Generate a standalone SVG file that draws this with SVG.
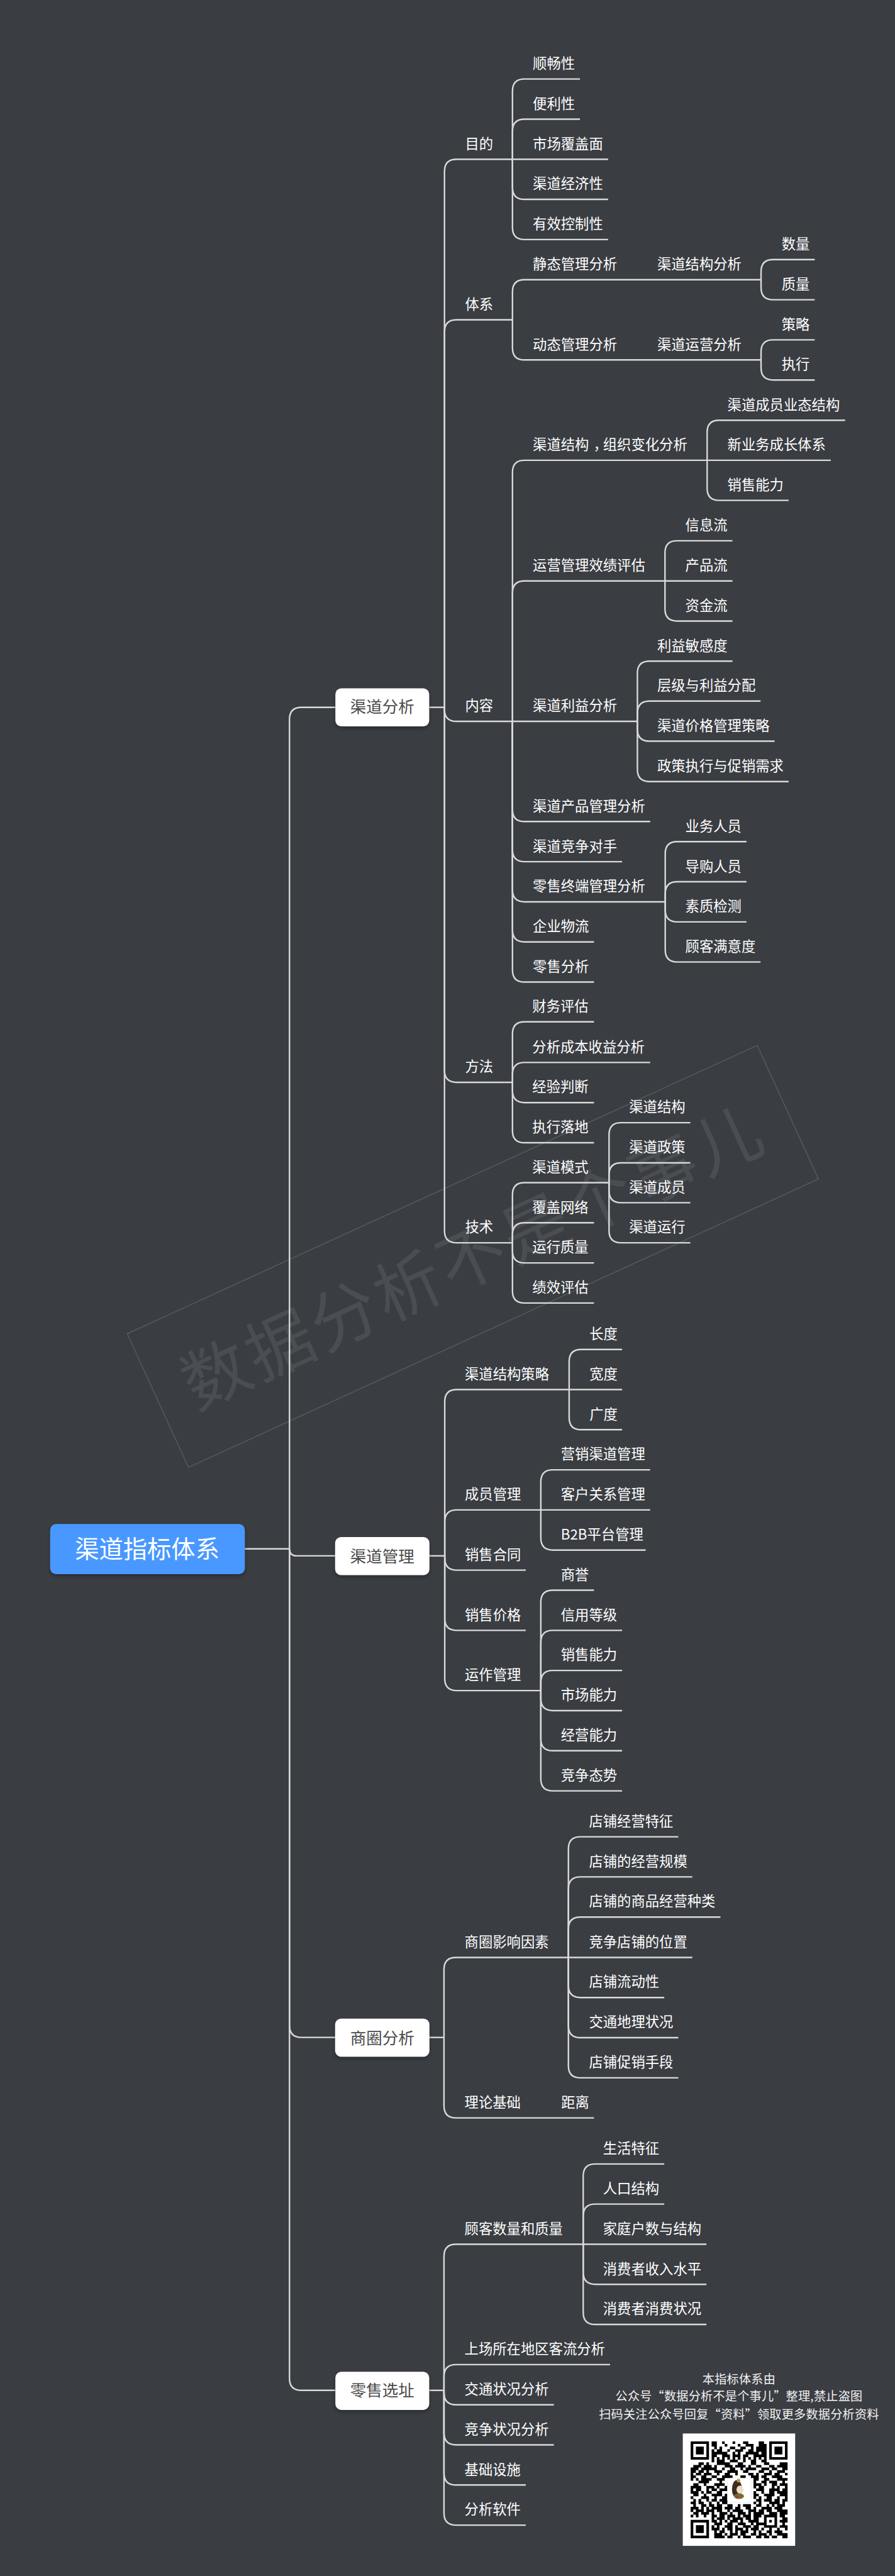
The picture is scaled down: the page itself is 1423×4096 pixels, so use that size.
<svg xmlns="http://www.w3.org/2000/svg" xmlns:xlink="http://www.w3.org/1999/xlink" width="1423" height="4096" viewBox="0 0 1423 4096">
<defs>
<style>
text{font-family:"Noto Sans CJK SC","Noto Sans",sans-serif}
.t{font-size:28px;fill:#fff}
.b{font-size:32px;fill:#4a4a4a;text-anchor:middle}
.r{font-size:48px;fill:#fff;text-anchor:middle}
.n{font-size:24px;fill:#f2f2f2;text-anchor:middle;letter-spacing:.3px}
.w{font-size:134px;fill:#4a4d52;text-anchor:middle;letter-spacing:6px}
#connectors path{fill:none;stroke:#d9d9d9;stroke-width:3}
.box{fill:#fff}
</style>
<filter id="sh" x="-20%" y="-30%" width="140%" height="170%"><feDropShadow dx="0" dy="4" stdDeviation="4" flood-color="#000" flood-opacity=".3"/></filter>
<g id="finder"><path d="M0 0h7v7h-7zM1 1v5h5v-5z" fill="#000" fill-rule="evenodd"/><rect x="2" y="2" width="3" height="3" fill="#000"/></g>
</defs>
<rect width="1423" height="4096" fill="#3a3d42"/>
<g transform="scale(.79765)">
<g id="watermark" transform="rotate(-24.6 942.5 2504.5)">
<rect x="252" y="2358" width="1381" height="293" fill="none" stroke="#55585d" stroke-width="2"/>
<text class="w" x="942.5" y="2554">数据分析不是个事儿</text>
</g>
<g id="connectors">
<path d="M488 3087.5H577"/>
<path d="M577 3087.5V1434Q577 1410 601 1410H668"/>
<path d="M577 3087.5Q577 3101.5 591 3101.5H668"/>
<path d="M577 3087.5V4037.5Q577 4061.5 601 4061.5H668"/>
<path d="M577 3087.5V4741Q577 4765 601 4765H668"/>
<path d="M856 1410H886"/>
<path d="M886 1410V341.5Q886 317.5 910 317.5H1021.5"/>
<path d="M886 1410V661.5Q886 637.5 910 637.5H1021.5"/>
<path d="M886 1410V1414Q886 1438 910 1438H1270.5"/>
<path d="M886 1410V2133.5Q886 2157.5 910 2157.5H1021.5"/>
<path d="M886 1410V2453.5Q886 2477.5 910 2477.5H1021.5"/>
<path d="M1021.5 317.5V181.5Q1021.5 157.5 1045.5 157.5H1156"/>
<path d="M1021.5 317.5V261.5Q1021.5 237.5 1045.5 237.5H1156"/>
<path d="M1021.5 317.5H1212"/>
<path d="M1021.5 317.5V373.5Q1021.5 397.5 1045.5 397.5H1212"/>
<path d="M1021.5 317.5V453.5Q1021.5 477.5 1045.5 477.5H1212"/>
<path d="M1021.5 637.5V581.5Q1021.5 557.5 1045.5 557.5H1517"/>
<path d="M1021.5 637.5V693.5Q1021.5 717.5 1045.5 717.5H1517"/>
<path d="M1517 557.5V541.5Q1517 517.5 1541 517.5H1624"/>
<path d="M1517 557.5V573.5Q1517 597.5 1541 597.5H1624"/>
<path d="M1517 717.5V701.5Q1517 677.5 1541 677.5H1624"/>
<path d="M1517 717.5V733.5Q1517 757.5 1541 757.5H1624"/>
<path d="M1021.5 1438V941.5Q1021.5 917.5 1045.5 917.5H1409.5"/>
<path d="M1021.5 1438V1182Q1021.5 1158 1045.5 1158H1325.5"/>
<path d="M1021.5 1438V1613.7Q1021.5 1637.7 1045.5 1637.7H1296"/>
<path d="M1021.5 1438V1693.7Q1021.5 1717.7 1045.5 1717.7H1240"/>
<path d="M1021.5 1438V1773.7Q1021.5 1797.7 1045.5 1797.7H1326"/>
<path d="M1021.5 1438V1853.7Q1021.5 1877.7 1045.5 1877.7H1184"/>
<path d="M1021.5 1438V1933.7Q1021.5 1957.7 1045.5 1957.7H1184"/>
<path d="M1409.5 917.5V861.8Q1409.5 837.8 1433.5 837.8H1684.5"/>
<path d="M1409.5 917.5H1656"/>
<path d="M1409.5 917.5V973.5Q1409.5 997.5 1433.5 997.5H1572"/>
<path d="M1325.5 1158V1102Q1325.5 1078 1349.5 1078H1460"/>
<path d="M1325.5 1158H1460"/>
<path d="M1325.5 1158V1214Q1325.5 1238 1349.5 1238H1460"/>
<path d="M1270.5 1438V1342Q1270.5 1318 1294.5 1318H1460"/>
<path d="M1270.5 1438V1421.5Q1270.5 1397.5 1294.5 1397.5H1516"/>
<path d="M1270.5 1438V1453.5Q1270.5 1477.5 1294.5 1477.5H1544"/>
<path d="M1270.5 1438V1534Q1270.5 1558 1294.5 1558H1572"/>
<path d="M1326 1797.7V1701.7Q1326 1677.7 1350 1677.7H1488"/>
<path d="M1326 1797.7V1781.7Q1326 1757.7 1350 1757.7H1488"/>
<path d="M1326 1797.7V1813.7Q1326 1837.7 1350 1837.7H1488"/>
<path d="M1326 1797.7V1893.7Q1326 1917.7 1350 1917.7H1516"/>
<path d="M1021.5 2157.5V2061Q1021.5 2037 1045.5 2037H1184"/>
<path d="M1021.5 2157.5V2142Q1021.5 2118 1045.5 2118H1296"/>
<path d="M1021.5 2157.5V2174Q1021.5 2198 1045.5 2198H1184"/>
<path d="M1021.5 2157.5V2254Q1021.5 2278 1045.5 2278H1184"/>
<path d="M1021.5 2477.5V2381.5Q1021.5 2357.5 1045.5 2357.5H1214"/>
<path d="M1021.5 2477.5V2461.5Q1021.5 2437.5 1045.5 2437.5H1184"/>
<path d="M1021.5 2477.5V2493.5Q1021.5 2517.5 1045.5 2517.5H1184"/>
<path d="M1021.5 2477.5V2573.5Q1021.5 2597.5 1045.5 2597.5H1184"/>
<path d="M1214 2357.5V2262Q1214 2238 1238 2238H1376"/>
<path d="M1214 2357.5V2342Q1214 2318 1238 2318H1376"/>
<path d="M1214 2357.5V2373.5Q1214 2397.5 1238 2397.5H1376"/>
<path d="M1214 2357.5V2453.5Q1214 2477.5 1238 2477.5H1376"/>
<path d="M856 3101.5H886.5"/>
<path d="M886.5 3101.5V2794Q886.5 2770 910.5 2770H1134.5"/>
<path d="M886.5 3101.5V3034Q886.5 3010 910.5 3010H1078"/>
<path d="M886.5 3101.5V3106Q886.5 3130 910.5 3130H1048"/>
<path d="M886.5 3101.5V3226Q886.5 3250 910.5 3250H1048"/>
<path d="M886.5 3101.5V3346Q886.5 3370 910.5 3370H1078"/>
<path d="M1134.5 2770V2714Q1134.5 2690 1158.5 2690H1240"/>
<path d="M1134.5 2770H1240"/>
<path d="M1134.5 2770V2826Q1134.5 2850 1158.5 2850H1240"/>
<path d="M1078 3010V2954Q1078 2930 1102 2930H1296"/>
<path d="M1078 3010H1296"/>
<path d="M1078 3010V3066Q1078 3090 1102 3090H1287"/>
<path d="M1078 3370V3194Q1078 3170 1102 3170H1184"/>
<path d="M1078 3370V3274Q1078 3250 1102 3250H1240"/>
<path d="M1078 3370V3354Q1078 3330 1102 3330H1240"/>
<path d="M1078 3370V3386Q1078 3410 1102 3410H1240"/>
<path d="M1078 3370V3466Q1078 3490 1102 3490H1240"/>
<path d="M1078 3370V3546Q1078 3570 1102 3570H1240"/>
<path d="M856 4061.5H885"/>
<path d="M885 4061.5V3926Q885 3902 909 3902H1133"/>
<path d="M885 4061.5V4198Q885 4222 909 4222H1184"/>
<path d="M1133 3902V3685.5Q1133 3661.5 1157 3661.5H1352"/>
<path d="M1133 3902V3765.5Q1133 3741.5 1157 3741.5H1380"/>
<path d="M1133 3902V3845.5Q1133 3821.5 1157 3821.5H1436"/>
<path d="M1133 3902H1380"/>
<path d="M1133 3902V3958Q1133 3982 1157 3982H1324"/>
<path d="M1133 3902V4038Q1133 4062 1157 4062H1352"/>
<path d="M1133 3902V4118Q1133 4142 1157 4142H1352"/>
<path d="M856 4765H885"/>
<path d="M885 4765V4497.7Q885 4473.7 909 4473.7H1162.5"/>
<path d="M885 4765V4737.7Q885 4713.7 909 4713.7H1216"/>
<path d="M885 4765V4769.7Q885 4793.7 909 4793.7H1104"/>
<path d="M885 4765V4849.7Q885 4873.7 909 4873.7H1104"/>
<path d="M885 4765V4929.7Q885 4953.7 909 4953.7H1048"/>
<path d="M885 4765V5009.7Q885 5033.7 909 5033.7H1048"/>
<path d="M1162.5 4473.7V4337.7Q1162.5 4313.7 1186.5 4313.7H1324"/>
<path d="M1162.5 4473.7V4417.7Q1162.5 4393.7 1186.5 4393.7H1324"/>
<path d="M1162.5 4473.7H1408"/>
<path d="M1162.5 4473.7V4529.7Q1162.5 4553.7 1186.5 4553.7H1408"/>
<path d="M1162.5 4473.7V4609.7Q1162.5 4633.7 1186.5 4633.7H1408"/>
</g>
<g id="root"><rect x="100" y="3038" width="388" height="100" rx="12" fill="#4a98ff" filter="url(#sh)"/><text class="r" x="293.5" y="3105">渠道指标体系</text></g>
<g id="b1"><rect class="box" x="668.5" y="1372" width="187" height="76" rx="12" filter="url(#sh)"/><text class="b" x="762" y="1421">渠道分析</text></g>
<g id="b2"><rect class="box" x="668" y="3064" width="188" height="76" rx="12" filter="url(#sh)"/><text class="b" x="762" y="3114">渠道管理</text></g>
<g id="b3"><rect class="box" x="668" y="4024" width="188" height="76" rx="12" filter="url(#sh)"/><text class="b" x="762" y="4074">商圈分析</text></g>
<g id="b4"><rect class="box" x="668.5" y="4728" width="187" height="76" rx="12" filter="url(#sh)"/><text class="b" x="762" y="4777">零售选址</text></g>
<g id="n1"><text class="t" x="927" y="296.5">目的</text></g>
<g id="n2"><text class="t" x="927" y="616.5">体系</text></g>
<g id="n3"><text class="t" x="927" y="1417">内容</text></g>
<g id="n4"><text class="t" x="927" y="2136.5">方法</text></g>
<g id="n5"><text class="t" x="927" y="2456.5">技术</text></g>
<g id="n6"><text class="t" x="1062" y="136.5">顺畅性</text></g>
<g id="n7"><text class="t" x="1062" y="216.5">便利性</text></g>
<g id="n8"><text class="t" x="1062" y="296.5">市场覆盖面</text></g>
<g id="n9"><text class="t" x="1062" y="376.5">渠道经济性</text></g>
<g id="n10"><text class="t" x="1062" y="456.5">有效控制性</text></g>
<g id="n11"><text class="t" x="1062" y="536.5">静态管理分析</text></g>
<g id="n12"><text class="t" x="1062" y="696.5">动态管理分析</text></g>
<g id="n13"><text class="t" x="1310" y="536.5">渠道结构分析</text></g>
<g id="n14"><text class="t" x="1310" y="696.5">渠道运营分析</text></g>
<g id="n15"><text class="t" x="1558" y="496.5">数量</text></g>
<g id="n16"><text class="t" x="1558" y="576.5">质量</text></g>
<g id="n17"><text class="t" x="1558" y="656.5">策略</text></g>
<g id="n18"><text class="t" x="1558" y="736.5">执行</text></g>
<g id="n19"><text class="t" x="1062" y="896.5">渠道结构<tspan dx="9">，</tspan><tspan dx="-9">组织变化分析</tspan></text></g>
<g id="n20"><text class="t" x="1062" y="1137">运营管理效绩评估</text></g>
<g id="n21"><text class="t" x="1062" y="1417">渠道利益分析</text></g>
<g id="n22"><text class="t" x="1062" y="1617">渠道产品管理分析</text></g>
<g id="n23"><text class="t" x="1062" y="1697">渠道竞争对手</text></g>
<g id="n24"><text class="t" x="1062" y="1777">零售终端管理分析</text></g>
<g id="n25"><text class="t" x="1062" y="1857">企业物流</text></g>
<g id="n26"><text class="t" x="1062" y="1937">零售分析</text></g>
<g id="n27"><text class="t" x="1450" y="817">渠道成员业态结构</text></g>
<g id="n28"><text class="t" x="1450" y="897">新业务成长体系</text></g>
<g id="n29"><text class="t" x="1450" y="976.5">销售能力</text></g>
<g id="n30"><text class="t" x="1366" y="1057">信息流</text></g>
<g id="n31"><text class="t" x="1366" y="1137">产品流</text></g>
<g id="n32"><text class="t" x="1366" y="1217">资金流</text></g>
<g id="n33"><text class="t" x="1310" y="1297">利益敏感度</text></g>
<g id="n34"><text class="t" x="1310" y="1376.5">层级与利益分配</text></g>
<g id="n35"><text class="t" x="1310" y="1456.5">渠道价格管理策略</text></g>
<g id="n36"><text class="t" x="1310" y="1537">政策执行与促销需求</text></g>
<g id="n37"><text class="t" x="1366" y="1657">业务人员</text></g>
<g id="n38"><text class="t" x="1366" y="1737">导购人员</text></g>
<g id="n39"><text class="t" x="1366" y="1817">素质检测</text></g>
<g id="n40"><text class="t" x="1366" y="1897">顾客满意度</text></g>
<g id="n41"><text class="t" x="1061" y="2016">财务评估</text></g>
<g id="n42"><text class="t" x="1061" y="2097">分析成本收益分析</text></g>
<g id="n43"><text class="t" x="1061" y="2177">经验判断</text></g>
<g id="n44"><text class="t" x="1061" y="2257">执行落地</text></g>
<g id="n45"><text class="t" x="1061" y="2336.5">渠道模式</text></g>
<g id="n46"><text class="t" x="1061" y="2416.5">覆盖网络</text></g>
<g id="n47"><text class="t" x="1061" y="2496.5">运行质量</text></g>
<g id="n48"><text class="t" x="1061" y="2576.5">绩效评估</text></g>
<g id="n49"><text class="t" x="1254" y="2217">渠道结构</text></g>
<g id="n50"><text class="t" x="1254" y="2297">渠道政策</text></g>
<g id="n51"><text class="t" x="1254" y="2376.5">渠道成员</text></g>
<g id="n52"><text class="t" x="1254" y="2456.5">渠道运行</text></g>
<g id="n53"><text class="t" x="926.5" y="2749">渠道结构策略</text></g>
<g id="n54"><text class="t" x="926.5" y="2989">成员管理</text></g>
<g id="n55"><text class="t" x="926.5" y="3109">销售合同</text></g>
<g id="n56"><text class="t" x="926.5" y="3229">销售价格</text></g>
<g id="n57"><text class="t" x="926.5" y="3349">运作管理</text></g>
<g id="n58"><text class="t" x="1175" y="2669">长度</text></g>
<g id="n59"><text class="t" x="1175" y="2749">宽度</text></g>
<g id="n60"><text class="t" x="1175" y="2829">广度</text></g>
<g id="n61"><text class="t" x="1118" y="2909">营销渠道管理</text></g>
<g id="n62"><text class="t" x="1118" y="2989">客户关系管理</text></g>
<g id="n63"><text class="t" x="1118" y="3069">B2B平台管理</text></g>
<g id="n64"><text class="t" x="1118" y="3149">商誉</text></g>
<g id="n65"><text class="t" x="1118" y="3229">信用等级</text></g>
<g id="n66"><text class="t" x="1118" y="3309">销售能力</text></g>
<g id="n67"><text class="t" x="1118" y="3389">市场能力</text></g>
<g id="n68"><text class="t" x="1118" y="3469">经营能力</text></g>
<g id="n69"><text class="t" x="1118" y="3549">竞争态势</text></g>
<g id="n70"><text class="t" x="926" y="3881">商圈影响因素</text></g>
<g id="n71"><text class="t" x="926" y="4201">理论基础</text></g>
<g id="n72"><text class="t" x="1118.5" y="4201">距离</text></g>
<g id="n73"><text class="t" x="1174" y="3640.5">店铺经营特征</text></g>
<g id="n74"><text class="t" x="1174" y="3720.5">店铺的经营规模</text></g>
<g id="n75"><text class="t" x="1174" y="3800.5">店铺的商品经营种类</text></g>
<g id="n76"><text class="t" x="1174" y="3881">竞争店铺的位置</text></g>
<g id="n77"><text class="t" x="1174" y="3961">店铺流动性</text></g>
<g id="n78"><text class="t" x="1174" y="4041">交通地理状况</text></g>
<g id="n79"><text class="t" x="1174" y="4121">店铺促销手段</text></g>
<g id="n80"><text class="t" x="926" y="4452.7">顾客数量和质量</text></g>
<g id="n81"><text class="t" x="926" y="4692.7">上场所在地区客流分析</text></g>
<g id="n82"><text class="t" x="926" y="4772.7">交通状况分析</text></g>
<g id="n83"><text class="t" x="926" y="4852.7">竞争状况分析</text></g>
<g id="n84"><text class="t" x="926" y="4932.7">基础设施</text></g>
<g id="n85"><text class="t" x="926" y="5012.7">分析软件</text></g>
<g id="n86"><text class="t" x="1202" y="4292.7">生活特征</text></g>
<g id="n87"><text class="t" x="1202" y="4372.7">人口结构</text></g>
<g id="n88"><text class="t" x="1202" y="4452.7">家庭户数与结构</text></g>
<g id="n89"><text class="t" x="1202" y="4532.7">消费者收入水平</text></g>
<g id="n90"><text class="t" x="1202" y="4612.7">消费者消费状况</text></g>
<g id="note"><text class="n" x="1473" y="4751">本指标体系由</text><text class="n" x="1473" y="4785">公众号“数据分析不是个事儿”整理,禁止盗图</text><text class="n" x="1473" y="4822">扫码关注公众号回复“资料”领取更多数据分析资料</text></g>
<g id="qr">
<rect x="1361" y="4851" width="224" height="224" fill="#fff"/>
<g transform="translate(1376.7 4866.7) scale(5.22)">
<use href="#finder"/><use href="#finder" x="30"/><use href="#finder" y="30"/>
<path fill="none" stroke="#000" stroke-width="1" d="M8 .5h2M12 .5h1M16 .5h1M20 .5h2M26 .5h2M8 1.5h2M13 1.5h1M18 1.5h1M21 1.5h3M26 1.5h3M9 2.5h1M11 2.5h1M15 2.5h2M19 2.5h2M23 2.5h1M25 2.5h4M8 3.5h1M10 3.5h2M14 3.5h1M17 3.5h3M22 3.5h2M25 3.5h4M8 4.5h6M16 4.5h1M18 4.5h1M21 4.5h5M27 4.5h2M8 5.5h2M12 5.5h3M16 5.5h3M20 5.5h2M24 5.5h5M8 6.5h1M10 6.5h1M12 6.5h1M14 6.5h1M16 6.5h1M18 6.5h1M20 6.5h1M22 6.5h1M24 6.5h1M26 6.5h1M28 6.5h1M8 7.5h1M10 7.5h3M15 7.5h3M20 7.5h1M23 7.5h2M27 7.5h2M3 8.5h2M6 8.5h1M10 8.5h5M18 8.5h2M23 8.5h2M28 8.5h2M34 8.5h3M1 9.5h3M5 9.5h3M9 9.5h1M13 9.5h3M17 9.5h4M22 9.5h1M25 9.5h2M30 9.5h2M33 9.5h4M0 10.5h3M4 10.5h4M8 10.5h2M12 10.5h1M15 10.5h2M19 10.5h1M21 10.5h4M27 10.5h3M31 10.5h2M35 10.5h2M0 11.5h2M3 11.5h2M6 11.5h1M9 11.5h3M14 11.5h4M20 11.5h2M26 11.5h2M30 11.5h1M33 11.5h3M0 12.5h1M2 12.5h2M5 12.5h3M10 12.5h1M13 12.5h2M17 12.5h1M22 12.5h2M25 12.5h1M28 12.5h3M32 12.5h2M36 12.5h1M0 13.5h2M4 13.5h2M8 13.5h2M12 13.5h3M15 13.5h1M19 13.5h2M23 13.5h3M27 13.5h2M31 13.5h4M0 14.5h1M2 14.5h1M4 14.5h4M10 14.5h3M24 14.5h2M28 14.5h2M33 14.5h4M3 15.5h3M6 15.5h1M11 15.5h1M24 15.5h1M27 15.5h2M30 15.5h3M35 15.5h1M1 16.5h2M5 16.5h1M9 16.5h4M24 16.5h3M28 16.5h1M31 16.5h2M34 16.5h3M0 17.5h4M6 17.5h3M10 17.5h1M13 17.5h1M24 17.5h1M26 17.5h2M31 17.5h1M33 17.5h1M36 17.5h1M0 18.5h1M2 18.5h2M6 18.5h1M8 18.5h2M11 18.5h3M25 18.5h3M30 18.5h4M35 18.5h2M0 19.5h3M4 19.5h1M6 19.5h2M10 19.5h2M24 19.5h1M27 19.5h1M30 19.5h2M33 19.5h4M1 20.5h2M5 20.5h1M8 20.5h4M13 20.5h1M24 20.5h2M28 20.5h4M34 20.5h3M0 21.5h1M4 21.5h3M9 21.5h1M12 21.5h2M24 21.5h1M26 21.5h1M29 21.5h2M33 21.5h1M36 21.5h1M1 22.5h1M3 22.5h1M6 22.5h1M8 22.5h2M11 22.5h3M25 22.5h2M28 22.5h3M32 22.5h2M35 22.5h2M0 23.5h2M3 23.5h2M7 23.5h1M10 23.5h1M12 23.5h2M24 23.5h1M26 23.5h1M30 23.5h4M35 23.5h1M1 24.5h1M4 24.5h2M7 24.5h2M10 24.5h2M14 24.5h2M18 24.5h1M20 24.5h3M25 24.5h2M29 24.5h1M31 24.5h1M33 24.5h3M0 25.5h3M4 25.5h1M6 25.5h1M8 25.5h4M13 25.5h3M17 25.5h2M21 25.5h2M24 25.5h1M27 25.5h4M32 25.5h3M0 26.5h1M2 26.5h3M6 26.5h3M10 26.5h2M14 26.5h1M16 26.5h4M22 26.5h3M26 26.5h2M29 26.5h2M33 26.5h4M1 27.5h2M4 27.5h3M8 27.5h1M11 27.5h3M15 27.5h1M18 27.5h3M22 27.5h1M24 27.5h4M30 27.5h3M34 27.5h3M0 28.5h1M2 28.5h1M5 28.5h1M8 28.5h2M11 28.5h2M14 28.5h3M18 28.5h1M20 28.5h3M24 28.5h3M28 28.5h5M34 28.5h2M8 29.5h1M10 29.5h3M14 29.5h1M16 29.5h4M21 29.5h2M24 29.5h2M28 29.5h1M32 29.5h1M35 29.5h2M8 30.5h2M11 30.5h1M13 30.5h1M15 30.5h3M19 30.5h1M22 30.5h4M28 30.5h1M30 30.5h1M32 30.5h1M34 30.5h3M9 31.5h3M14 31.5h2M18 31.5h3M23 31.5h1M25 31.5h3M28 31.5h1M32 31.5h1M35 31.5h1M8 32.5h1M10 32.5h1M13 32.5h3M17 32.5h1M20 32.5h3M24 32.5h2M28 32.5h5M34 32.5h3M8 33.5h3M12 33.5h1M14 33.5h2M17 33.5h3M21 33.5h1M23 33.5h3M27 33.5h1M30 33.5h1M33 33.5h1M36 33.5h1M9 34.5h1M11 34.5h2M15 34.5h1M17 34.5h1M19 34.5h3M24 34.5h1M26 34.5h1M29 34.5h2M32 34.5h3M9 35.5h3M13 35.5h1M15 35.5h3M19 35.5h2M23 35.5h2M26 35.5h3M30 35.5h1M33 35.5h4M9 36.5h4M14 36.5h2M18 36.5h1M20 36.5h3M25 36.5h2M28 36.5h2M31 36.5h2M35 36.5h2"/>
</g>
<rect x="1450" y="4940" width="47" height="48" rx="6" fill="#fff" stroke="#e2e2e2" stroke-width="1"/>
<ellipse cx="1469" cy="4962" rx="10" ry="18" fill="#3f2c20"/>
<circle cx="1472" cy="4945" r="3.5" fill="#b89a4a"/>
<ellipse cx="1475" cy="4963" rx="7" ry="8" fill="#efdcc6"/>
<ellipse cx="1473" cy="4976" rx="10" ry="5.5" fill="#7a6a30"/>
<circle cx="1469" cy="4977" r="2.5" fill="#a63a2a"/>
</g>
</g>
</svg>
